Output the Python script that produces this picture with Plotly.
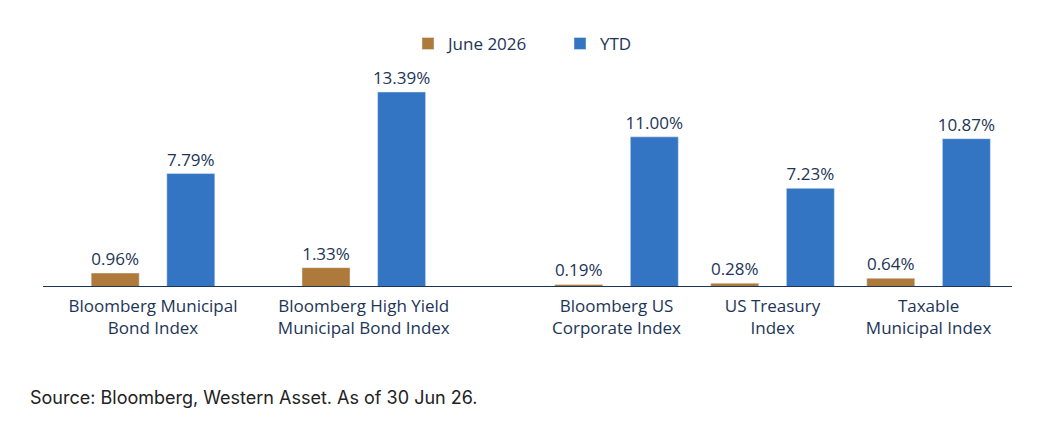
import plotly.graph_objects as go

# ---- data ----
left_categories = ["Bloomberg Municipal<br>Bond Index", "Bloomberg High Yield<br>Municipal Bond Index"]
right_categories = ["Bloomberg US<br>Corporate Index", "US Treasury<br>Index", "Taxable<br>Municipal Index"]
june_left = [0.96, 1.33]
ytd_left = [7.79, 13.39]
june_right = [0.19, 0.28, 0.64]
ytd_right = [11.00, 7.23, 10.87]
series_names = ["June 2026", "YTD"]
source_text = "Source: Bloomberg, Western Asset. As of 30 Jun 26."

# ---- style ----
W, H = 1054, 428
BROWN = "#AE7A3C"
BLUE = "#3475C3"
NAVY = "#1C3557"
FONT = "Open Sans"

left_dom = [47.6 / W, 469.2 / W]
right_dom = [538.5 / W, 1006.6 / W]
bar_px, half_sep_px = 48, 37.8
left_unit = (left_dom[1] - left_dom[0]) * W / len(left_categories)
right_unit = (right_dom[1] - right_dom[0]) * W / len(right_categories)

def geom(unit):
    w = bar_px / unit
    return w, (-half_sep_px - bar_px / 2) / unit, (half_sep_px - bar_px / 2) / unit

lw, lo_b, lo_y = geom(left_unit)
rw, ro_b, ro_y = geom(right_unit)

def fmt(vals):
    return [f"{v:.2f}%" for v in vals]

tf = dict(family=FONT, size=17, color=NAVY)

def bar(x, y, name, color, w, off, xa, ya, show):
    return go.Bar(x=x, y=y, name=name, marker_color=color, width=w, offset=off,
                  text=fmt(y), textposition="outside", textfont=tf, constraintext="none",
                  cliponaxis=False, xaxis=xa, yaxis=ya, showlegend=show)

fig = go.Figure()
fig.add_trace(bar(left_categories, june_left, series_names[0], BROWN, lw, lo_b, "x", "y", True))
fig.add_trace(bar(left_categories, ytd_left, series_names[1], BLUE, lw, lo_y, "x", "y", True))
fig.add_trace(bar(right_categories, june_right, series_names[0], BROWN, rw, ro_b, "x2", "y2", False))
fig.add_trace(bar(right_categories, ytd_right, series_names[1], BLUE, rw, ro_y, "x2", "y2", False))

xcommon = dict(showgrid=False, showline=False, zeroline=False, ticks="", ticklabelstandoff=7,
               tickfont=dict(family=FONT, size=17, color=NAVY), fixedrange=True)
ycommon = dict(showgrid=False, showline=False, zeroline=False, showticklabels=False, fixedrange=True)

fig.update_layout(
    width=W, height=H,
    margin=dict(l=0, r=0, t=70, b=141),
    paper_bgcolor="white", plot_bgcolor="white",
    barmode="overlay",
    xaxis=dict(domain=left_dom, anchor="y", **xcommon),
    xaxis2=dict(domain=right_dom, anchor="y2", **xcommon),
    yaxis=dict(range=[0, 14.9], anchor="x", **ycommon),
    yaxis2=dict(range=[0, 15.9], anchor="x2", **ycommon),
    legend=dict(orientation="h", x=560 / W, xanchor="center", y=1.12, yanchor="middle",
                entrywidth=107, font=dict(family=FONT, size=17, color=NAVY), traceorder="normal"),
    showlegend=True,
    shapes=[dict(type="line", xref="paper", yref="y", x0=43 / W, x1=1012 / W, y0=0, y1=0,
                 line=dict(color=NAVY, width=2))],
    annotations=[dict(text=source_text, xref="paper", yref="paper", x=28 / W, y=-0.507,
                      xanchor="left", yanchor="middle", showarrow=False,
                      font=dict(family="Inter", size=18, color="#222222"))],
)

fig.write_html("out.html")
